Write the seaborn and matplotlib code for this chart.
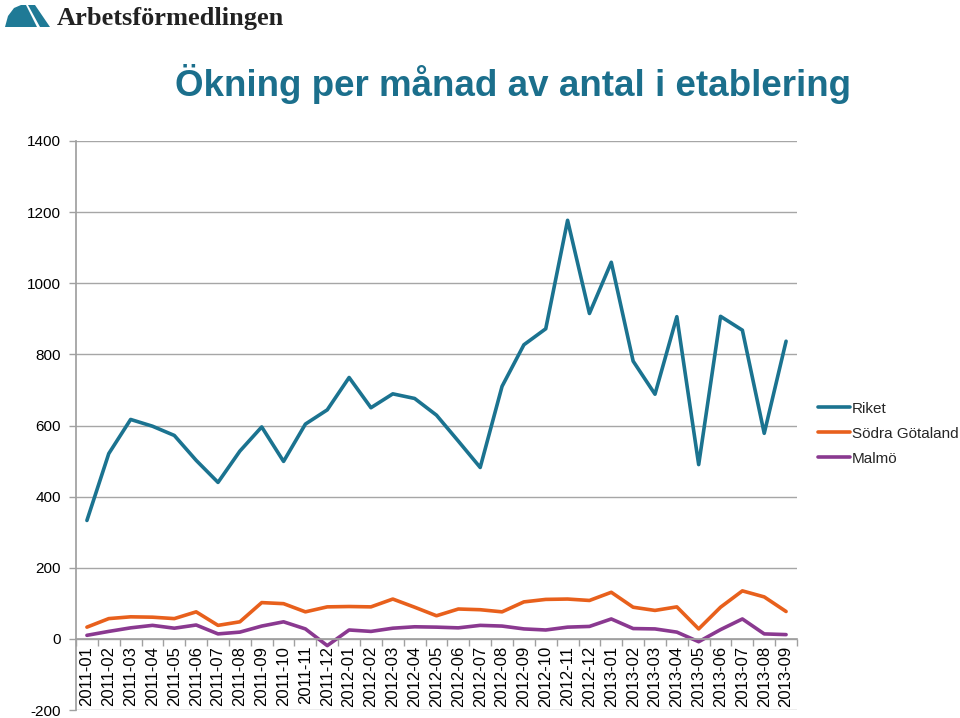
import matplotlib
matplotlib.use("Agg")
import matplotlib.pyplot as plt
from matplotlib.patches import Polygon
import seaborn as sns
import pandas as pd

months = ["2011-01", "2011-02", "2011-03", "2011-04", "2011-05", "2011-06", "2011-07", "2011-08",
          "2011-09", "2011-10", "2011-11", "2011-12", "2012-01", "2012-02", "2012-03", "2012-04",
          "2012-05", "2012-06", "2012-07", "2012-08", "2012-09", "2012-10", "2012-11", "2012-12",
          "2013-01", "2013-02", "2013-03", "2013-04", "2013-05", "2013-06", "2013-07", "2013-08",
          "2013-09"]
riket = [333, 521, 617, 598, 572, 502, 440, 528, 596, 499, 604, 644,
         735, 650, 689, 676, 629, 556, 482, 710, 827, 872, 1177, 915,
         1059, 781, 688, 906, 490, 907, 868, 578, 837]
sodra = [33, 57, 62, 61, 57, 76, 38, 48, 102, 99, 76, 90,
         91, 90, 112, 89, 65, 84, 82, 76, 104, 111, 112, 108,
         131, 89, 80, 90, 28, 89, 135, 118, 77]
malmo = [10, 21, 31, 38, 30, 39, 14, 19, 36, 48, 28, -19,
         25, 21, 30, 34, 33, 31, 38, 36, 28, 25, 33, 35,
         56, 29, 28, 19, -8, 26, 56, 14, 12]
series_names = ["Riket", "Södra Götaland", "Malmö"]
colors = ["#1b7390", "#e8601c", "#8a3990"]
yticks = [-200, 0, 200, 400, 600, 800, 1000, 1200, 1400]

sns.set_theme(style="white")
plt.rcParams["font.family"] = ["Liberation Sans", "DejaVu Sans"]

n = len(months)
df = pd.DataFrame({
    "Månad": months * 3,
    "Värde": riket + sodra + malmo,
    "Serie": [series_names[0]] * n + [series_names[1]] * n + [series_names[2]] * n,
})

fig = plt.figure(figsize=(9.6, 7.18), dpi=100)
ax = fig.add_axes([76 / 960, 1 - 710 / 718, (797 - 76) / 960, (710 - 141) / 718])

sns.lineplot(data=df, x="Månad", y="Värde", hue="Serie", palette=colors,
             linewidth=2.6, ax=ax, sort=False, legend=False)

ax.set_xlim(-0.5, n - 0.5)
ax.set_ylim(-200, 1400)
ax.set_yticks(yticks)
ax.set_yticklabels([str(v) for v in yticks])
ax.set_xticks([i - 0.5 for i in range(n + 1)], minor=True)
ax.set_xticks(range(n))
ax.set_xticklabels(months)
ax.tick_params(axis="x", which="major", length=0, pad=5, labelrotation=90, labelsize=12, labelcolor="black")
ax.tick_params(axis="x", which="minor", length=5, color="#a0a0a0", width=1, direction="out", bottom=True)
ax.tick_params(axis="y", which="major", length=5, color="#a0a0a0", width=1, direction="out", left=True,
               pad=6, labelsize=11, labelcolor="black")
ax.set_xlabel("")
ax.set_ylabel("")
ax.grid(axis="y", color="#a6a6a6", linewidth=1)
ax.grid(axis="x", visible=False)
ax.set_axisbelow(True)

ax.spines["top"].set_visible(False)
ax.spines["right"].set_visible(False)
ax.spines["left"].set_color("#a0a0a0")
ax.spines["bottom"].set_color("#a0a0a0")
ax.spines["bottom"].set_position(("data", 0))

# Legend
handles = [plt.Line2D([], [], color=c, linewidth=2.6) for c in colors]
fig.legend(handles, series_names, loc="upper left", bbox_to_anchor=(804 / 960, 1 - 388 / 718),
           frameon=False, fontsize=11, handlelength=2.1, handletextpad=0.15, labelspacing=0.72)

# Title
fig.text(513 / 960, 1 - 84 / 718, "Ökning per månad av antal i etablering",
         ha="center", va="center", fontsize=26.5, fontweight="bold", color="#1b6f8c")

# Logo
fig.text(57 / 960, 1 - 19 / 718, "Arbetsförmedlingen", ha="left", va="center",
         fontsize=19, fontweight="bold", color="#222222",
         family=["Liberation Serif", "DejaVu Serif"])
logo1 = Polygon([(5 / 960, 1 - 27 / 718), (8 / 960, 1 - 16 / 718), (14 / 960, 1 - 8 / 718),
                 (21 / 960, 1 - 5 / 718), (26 / 960, 1 - 5 / 718), (37 / 960, 1 - 27 / 718)],
                closed=True, transform=fig.transFigure, facecolor="#1f7a96", edgecolor="none")
logo2 = Polygon([(28 / 960, 1 - 5 / 718), (35 / 960, 1 - 5 / 718), (50 / 960, 1 - 27 / 718),
                 (40 / 960, 1 - 27 / 718)],
                closed=True, transform=fig.transFigure, facecolor="#1f7a96", edgecolor="none")
fig.patches.extend([logo1, logo2])

fig.savefig("out.png", dpi=100)
